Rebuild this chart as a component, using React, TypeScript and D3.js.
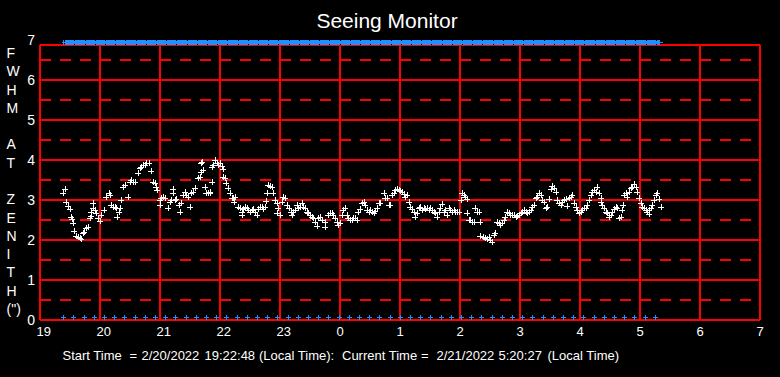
import React from "react";
import * as d3 from "d3";

// Sample times, minutes after 19:00 local time
const sampleMinutes: number[] = [
  23, 25.3, 26.3, 28, 29.7, 30.7, 32, 32.7, 33.7, 36.3,
  38, 39.7, 41.3, 43, 44, 46.3, 48, 49.7, 50.7, 51.3,
  53, 53, 54.7, 56.3, 58, 59.7, 61.3, 64, 66.3, 68.7,
  69.7, 71.3, 73, 74.7, 76.3, 77.3, 78.7, 79.7, 81.3, 83,
  84.7, 88, 89.7, 91.3, 93, 94.7, 98, 99.7, 101.3, 103,
  104.7, 106.3, 108.7, 111.3, 113, 114.7, 116.3, 117.3, 119.7, 119.7,
  121.3, 123, 124.7, 128, 129.7, 131.3, 133, 133, 134.7, 136.3,
  138.7, 139.7, 141.3, 143, 144.7, 146.3, 148, 149.7, 151.3, 153,
  154.7, 158, 159.7, 161.3, 162, 161.3, 163, 164.7, 166.3, 168,
  169.7,
  170, 171.7, 171.7, 173.3, 175, 176.7, 178.3, 180, 181.7, 182.7,
  183.3, 185, 186, 188.3, 190, 191.7, 193.3, 194, 195, 198.3,
  200, 201.7, 201.7, 203.3, 205, 206.7, 208.3, 210, 211.7, 213.3,
  215, 216.7, 218.3, 220, 221.7, 223.3, 225, 226, 226.7, 228.3,
  230, 231.7, 233.3, 235, 236.7, 236.7, 238.3, 240, 241.7, 243.3,
  245, 246.7, 249.3, 250.7, 251.7, 253.3, 255, 256.7, 258.3, 260,
  261.7, 263.3, 265, 266.7, 268.3, 270, 271.7, 273.3, 275, 276.7,
  278.3, 280, 281.7, 285, 285, 288.3, 290, 291.7, 293.3, 295,
  296.7, 298.3, 300, 301.7, 303.3, 305, 306.7, 308.3, 310, 311.7,
  313.3, 315, 316.7, 318.3, 320,
  322, 323.7, 325.3, 327, 328.7, 330.3, 332, 333.7, 335.3, 337,
  338.7, 340.3, 343.7, 345.3, 347, 348.7, 350.3, 352, 353.7, 355.3,
  357, 358.7, 360.3, 362, 363.7, 365.3, 367, 368.7, 370.3, 372,
  373.7, 375.3, 377, 378.7, 380.3, 382, 383.7, 385.3, 387, 388.7,
  390.3, 392, 393.7, 395.3, 397, 398.7, 400.3, 402, 403.7, 405.3,
  407, 408.7, 410.3, 412, 413.7, 415.3, 417, 418.7, 421.3, 422,
  423.7, 425.3, 427, 427, 428.7, 430.3, 432, 433.7, 435.3, 437,
  438.7, 440.3, 440.3, 442.7, 444.7, 447, 448.7, 450.3, 452, 453.7,
  455.3, 457, 458.7, 460.3, 462, 463.7, 465.3, 467, 468.7, 470.3,
  472,
  474, 475.7, 477.3, 479, 480.7, 482.3, 484, 485.7, 487.3, 489,
  490.7, 492.3, 494, 495.7, 497.3, 499, 500.7, 502.3, 504, 505.7,
  507.3, 509, 510.7, 512.3, 514, 515.7, 517.3, 519, 520.7, 522.3,
  524, 525.7, 527.3, 529, 530.7, 532.3, 534, 535.7, 537.3, 539,
  540.7, 542.3, 544, 545.7, 547.3, 549, 550.7, 552.3, 554, 555.7,
  556.7, 559, 560.7, 561.3, 562.3, 564, 565.7, 567.3, 569, 570.7,
  572.3, 574, 575.7, 577.3, 579, 580.7, 582.3, 583.3, 584, 585.7,
  587.3, 589, 590.7, 592.3, 594, 595.7, 597.3, 599, 600.7, 602.3,
  604, 605.7, 607.3, 609, 609, 610.7, 612.3, 614, 615.7, 617.3,
  619, 620.7,
];

// FWHM at zenith (arcsec)
const fwhmValues: number[] = [
  3.17, 3.27, 2.96, 2.85, 2.77, 2.58, 2.52, 2.42, 2.22, 2.10,
  2.07, 2.04, 2.02, 2.17, 2.21, 2.29, 2.33, 2.54, 2.60, 2.71,
  2.79, 2.92, 2.75, 2.67, 2.54, 2.48, 2.62, 2.75, 3.08, 3.17,
  3.12, 2.87, 2.82, 2.83, 2.79, 2.58, 2.71, 2.79, 3.00, 3.33,
  3.37, 3.08, 3.46, 3.50, 3.46, 3.46, 3.68, 3.79, 3.83, 3.87,
  3.87, 3.92, 3.93, 3.73, 3.46, 3.42, 3.33, 3.25, 3.00, 2.87,
  3.04, 3.08, 3.04, 2.79, 2.96, 3.00, 3.17, 3.27, 3.00, 3.02,
  2.87, 2.71, 2.92, 3.12, 3.21, 3.12, 3.08, 2.83, 3.17, 3.21,
  3.29, 3.54, 3.58, 3.71, 3.96, 3.92, 3.75, 3.33, 3.17, 3.17,
  3.21,
  3.18, 3.83, 3.46, 3.87, 4.00, 3.92, 3.87, 3.92, 3.85, 3.77,
  3.58, 3.54, 3.42, 3.29, 3.17, 3.04, 3.04, 2.96, 3.08, 2.83,
  2.79, 2.71, 2.62, 2.77, 2.82, 2.79, 2.75, 2.71, 2.75, 2.77,
  2.71, 2.62, 2.77, 2.82, 2.83, 2.77, 2.82, 2.98, 3.18, 3.37,
  3.35, 3.32, 3.18, 3.00, 2.92, 2.67, 2.79, 2.62, 2.96, 3.08,
  3.04, 2.87, 2.79, 2.71, 2.62, 2.71, 2.75, 2.87, 2.79, 2.83,
  2.92, 2.83, 2.79, 2.71, 2.67, 2.62, 2.58, 2.54, 2.46, 2.35,
  2.54, 2.58, 2.50, 2.33, 2.46, 2.62, 2.67, 2.67, 2.62, 2.54,
  2.46, 2.37, 2.42, 2.62, 2.75, 2.79, 2.62, 2.54, 2.50, 2.50,
  2.54, 2.54, 2.50, 2.71, 2.77,
  2.92, 2.96, 2.87, 2.75, 2.71, 2.75, 2.71, 2.67, 2.73, 2.79,
  2.92, 2.92, 3.17, 3.04, 3.04, 2.87, 2.87, 3.12, 3.17, 3.25,
  3.27, 3.25, 3.23, 3.21, 3.15, 3.08, 3.12, 2.96, 2.83, 2.77,
  2.71, 2.58, 2.67, 2.79, 2.83, 2.75, 2.79, 2.77, 2.79, 2.75,
  2.79, 2.75, 2.71, 2.67, 2.58, 2.71, 2.79, 2.90, 2.71, 2.75,
  2.62, 2.79, 2.75, 2.71, 2.75, 2.71, 2.71, 2.71, 3.00, 3.17,
  3.12, 3.08, 3.02, 2.67, 2.50, 2.50, 2.46, 2.46, 2.79, 2.71,
  2.71, 2.46, 2.10, 2.07, 2.04, 2.02, 2.07, 2.00, 1.96, 2.12,
  2.18, 2.46, 2.43, 2.37, 2.42, 2.50, 2.58, 2.71, 2.67, 2.62,
  2.62,
  2.62, 2.58, 2.60, 2.62, 2.67, 2.71, 2.75, 2.71, 2.67, 2.71,
  2.75, 2.83, 2.87, 3.04, 3.08, 3.17, 3.12, 3.00, 2.96, 2.79,
  2.83, 3.02, 3.27, 3.35, 3.29, 3.21, 3.00, 2.92, 2.87, 2.96,
  3.00, 3.02, 2.85, 3.04, 3.08, 3.12, 2.92, 2.83, 2.75, 2.67,
  2.71, 2.75, 2.79, 2.79, 2.87, 3.00, 3.12, 3.21, 3.25, 3.21,
  3.32, 3.17, 3.04, 2.96, 2.87, 2.79, 2.71, 2.67, 2.58, 2.62,
  2.71, 2.77, 2.83, 2.79, 2.54, 2.58, 2.75, 2.87, 3.12, 3.17,
  3.08, 3.21, 3.29, 3.33, 3.40, 3.33, 3.21, 3.04, 2.92, 2.83,
  2.79, 2.75, 2.71, 2.65, 2.75, 2.79, 2.87, 3.00, 3.12, 3.17,
  3.02, 2.83,
];

// Status markers (minutes after 19:00)
const statusMinutes: number[] = [
  23, 33, 44, 54, 64, 74, 84, 95, 105, 115,
  125, 135, 146, 156, 166, 176, 186, 197, 207, 217,
  227, 237, 248, 258, 268, 278, 288, 299, 309, 319,
  329, 339, 350, 360, 370, 380, 390, 401, 411, 421,
  431, 441, 452, 462, 472, 482, 492, 503, 513, 523,
  533, 543, 554, 564, 574, 584, 594, 605, 615,
];

const hourLabels = ["19", "20", "21", "22", "23", "0", "1", "2", "3", "4", "5", "6", "7"];
const yTicks = [0, 1, 2, 3, 4, 5, 6, 7];
const halfTicks = [0.5, 1.5, 2.5, 3.5, 4.5, 5.5, 6.5];
const yTitleLetters = ["F", "W", "H", "M", "", "A", "T", "", "Z", "E", "N", "I", "T", "H", "(\")"];
const title = "Seeing Monitor";
const footerParts: [string, number][] = [
  ["Start Time", 62.5],
  ["=", 129.5],
  ["2/20/2022", 141.5],
  ["19:22:48", 204.5],
  ["(Local Time):", 259],
  ["Current Time", 342],
  ["=", 421],
  ["2/21/2022", 436.5],
  ["5:20:27", 498.5],
  ["(Local Time)", 547.5],
];

const W = 780;
const H = 377;
const FONT = "'Liberation Sans', Arial, sans-serif";
const RED = "#ff0000";
const BLUE = "#1e90ff";

export default function App() {
  const x = d3.scaleLinear().domain([0, 720]).range([40, 760]);
  const y = d3.scaleLinear().domain([0, 7]).range([320, 40]);
  const frameTop = 45;
  const plus = (r: number) => `M${-r},0H${r}M0,${-r}V${r}`;

  const bandStart = x(statusMinutes[0]) + 1;
  const bandEnd = x(statusMinutes[statusMinutes.length - 1]) + 5;

  return (
    <svg
      width={W}
      height={H}
      style={{ position: "absolute", left: 0, top: 0, background: "#000" }}
    >
      <rect x={0} y={0} width={W} height={H} fill="#000" />
      <text
        x={387}
        y={28}
        fill="#fff"
        fontFamily={FONT}
        fontSize={21}
        textAnchor="middle"
      >
        {title}
      </text>

      {/* grid */}
      <g shapeRendering="crispEdges" stroke={RED} strokeWidth={2}>
        {yTicks.slice(1, 7).map((v) => (
          <line key={"h" + v} x1={x(0)} x2={x(720)} y1={y(v)} y2={y(v)} />
        ))}
        {halfTicks.map((v) => (
          <line
            key={"d" + v}
            x1={x(0)}
            x2={x(720)}
            y1={y(v)}
            y2={y(v)}
            strokeDasharray="11,9"
          />
        ))}
        {hourLabels.map((_, i) => (
          <line key={"v" + i} x1={x(i * 60)} x2={x(i * 60)} y1={frameTop} y2={y(0)} />
        ))}
        <line x1={x(0)} x2={x(720)} y1={frameTop} y2={frameTop} />
        <line x1={x(0)} x2={x(720)} y1={y(0)} y2={y(0)} />
      </g>

      {/* status band at top */}
      <g shapeRendering="crispEdges">
        <line x1={x(statusMinutes[0]) - 1} x2={bandEnd + 2.5} y1={42.5} y2={42.5} stroke={BLUE} strokeWidth={1} />
        <line x1={x(statusMinutes[0])} x2={x(statusMinutes[0])} y1={40} y2={45} stroke={BLUE} strokeWidth={1} />
        <rect x={bandStart + 1} y={40} width={bandEnd - bandStart - 1} height={5} fill={BLUE} />
        {statusMinutes.slice(1).map((m, i) => (
          <g key={"n" + i}>
            <rect x={x(m) + 1} y={40} width={1} height={1} fill="#000" />
            <rect x={x(m) + 1} y={44} width={1} height={1} fill="#000" />
          </g>
        ))}
      </g>

      {/* status markers at bottom */}
      <g stroke={BLUE} strokeWidth={1} shapeRendering="crispEdges">
        {statusMinutes.map((m, i) => (
          <path key={"b" + i} d={plus(2.5)} transform={`translate(${x(m)},${317.5})`} />
        ))}
      </g>

      {/* seeing data */}
      <g stroke="#fff" strokeWidth={1} shapeRendering="crispEdges">
        {sampleMinutes.map((m, i) => (
          <path key={"p" + i} d={plus(3)} transform={`translate(${Math.round(x(m))},${Math.round(y(fwhmValues[i]))})`} />
        ))}
      </g>

      {/* y tick labels */}
      {yTicks.map((v) => (
        <text
          key={"yl" + v}
          x={35}
          y={y(v)}
          dy="0.36em"
          fill="#fff"
          fontFamily={FONT}
          fontSize={14}
          textAnchor="end"
        >
          {v}
        </text>
      ))}

      {/* y title, vertical letters */}
      {yTitleLetters.map((c, i) => (
        <text
          key={"yt" + i}
          x={6.5}
          y={58 + i * 18.29}
          fill="#fff"
          fontFamily={FONT}
          fontSize={14}
        >
          {c}
        </text>
      ))}

      {/* x tick labels */}
      {hourLabels.map((h, i) => (
        <text
          key={"xl" + i}
          x={x(i * 60) - 3.5}
          y={336}
          fill="#fff"
          fontFamily={FONT}
          fontSize={13}
        >
          {h}
        </text>
      ))}

      {/* footer */}
      {footerParts.map(([t, px], i) => (
        <text key={"f" + i} x={px} y={360} fill="#fff" fontFamily={FONT} fontSize={13}>
          {t}
        </text>
      ))}
    </svg>
  );
}
